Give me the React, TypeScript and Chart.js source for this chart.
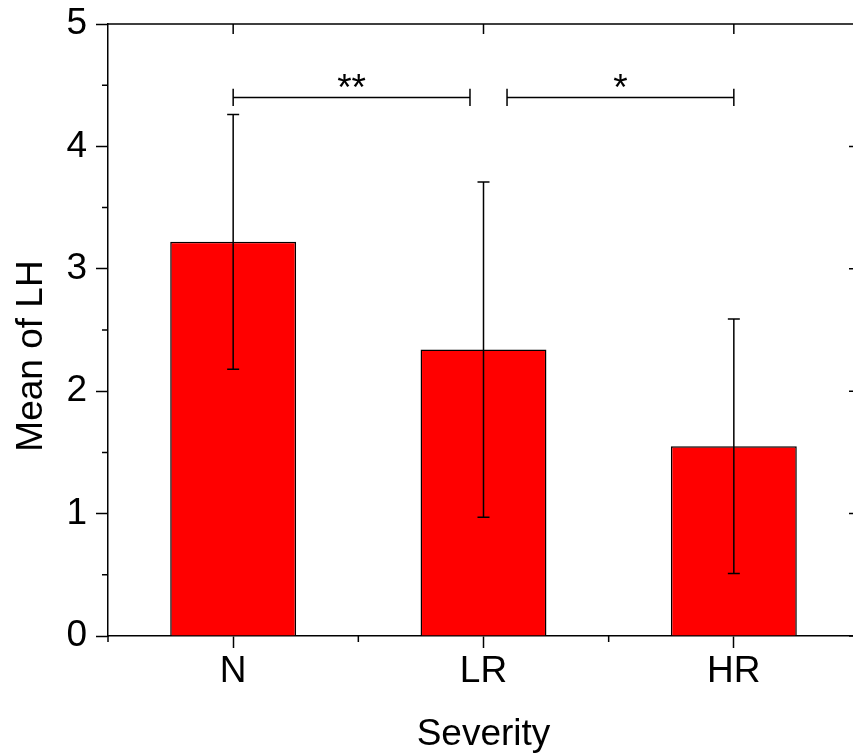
import React, { useEffect, useRef } from 'react';
import { Chart, registerables } from 'chart.js';

Chart.register(...registerables);

const categories = ['N', 'LR', 'HR'];
const means = [3.22, 2.34, 1.55];
const errors = [1.04, 1.37, 1.04];
const yTicks = [0, 1, 2, 3, 4, 5];
const yMinorTicks = [0.5, 1.5, 2.5, 3.5, 4.5];
const xMinorTicks = [-0.5, 0.5, 1.5, 2.5];
const bracketFrom = [0, 1.094];
const bracketTo = [0.946, 2];
const bracketY = [4.4, 4.4];
const bracketLabels = ['**', '*'];
const xTitle = 'Severity';
const yTitle = 'Mean of LH';

const FONT = '"Liberation Sans", Arial, sans-serif';

export default function App() {
  const ref = useRef<HTMLCanvasElement>(null);

  useEffect(() => {
    const canvas = ref.current;
    if (!canvas) return;

    const decor = {
      id: 'decor',
      afterDatasetsDraw(chart: any) {
        const { ctx, chartArea: a, scales } = chart;
        const x = scales.x;
        const y = scales.y;
        ctx.save();
        ctx.strokeStyle = '#000';
        ctx.fillStyle = '#000';
        ctx.lineWidth = 1.5;

        // error bars
        ctx.beginPath();
        means.forEach((m, i) => {
          const px = x.getPixelForValue(i);
          const top = y.getPixelForValue(m + errors[i]);
          const bot = y.getPixelForValue(m - errors[i]);
          ctx.moveTo(px, top);
          ctx.lineTo(px, bot);
          ctx.moveTo(px - 6, top);
          ctx.lineTo(px + 6, top);
          ctx.moveTo(px - 6, bot);
          ctx.lineTo(px + 6, bot);
        });
        ctx.stroke();

        // significance brackets
        ctx.beginPath();
        bracketFrom.forEach((f, i) => {
          const x1 = x.getPixelForValue(f);
          const x2 = x.getPixelForValue(bracketTo[i]);
          const py = y.getPixelForValue(bracketY[i]);
          const pt = y.getPixelForValue(bracketY[i] + 0.07);
          const pb = y.getPixelForValue(bracketY[i] - 0.07);
          ctx.moveTo(x1, py);
          ctx.lineTo(x2, py);
          ctx.moveTo(x1, pt);
          ctx.lineTo(x1, pb);
          ctx.moveTo(x2, pt);
          ctx.lineTo(x2, pb);
        });
        ctx.stroke();
        ctx.font = `37px ${FONT}`;
        ctx.textAlign = 'center';
        ctx.textBaseline = 'alphabetic';
        bracketFrom.forEach((f, i) => {
          const mx = x.getPixelForValue((f + bracketTo[i]) / 2);
          const py = y.getPixelForValue(bracketY[i] - 0.02);
          ctx.fillText(bracketLabels[i], mx, py);
        });

        // top and right axes
        ctx.beginPath();
        ctx.moveTo(a.left, a.top);
        ctx.lineTo(a.right, a.top);
        ctx.lineTo(a.right, a.bottom);
        categories.forEach((_, i) => {
          const px = x.getPixelForValue(i);
          ctx.moveTo(px, a.top);
          ctx.lineTo(px, a.top + 10);
        });
        yTicks.forEach((v) => {
          const py = y.getPixelForValue(v);
          ctx.moveTo(a.right, py);
          ctx.lineTo(a.right - 10, py);
        });
        // minor ticks
        yMinorTicks.forEach((v) => {
          const py = y.getPixelForValue(v);
          ctx.moveTo(a.left, py);
          ctx.lineTo(a.left - 6, py);
        });
        xMinorTicks.forEach((v) => {
          const px = x.getPixelForValue(v);
          ctx.moveTo(px, a.bottom);
          ctx.lineTo(px, a.bottom + 6);
        });
        ctx.stroke();

        // y axis title
        ctx.translate(42, (a.top + a.bottom) / 2 + 26);
        ctx.rotate(-Math.PI / 2);
        ctx.textAlign = 'center';
        ctx.textBaseline = 'alphabetic';
        ctx.fillText(yTitle, 0, 0);
        ctx.restore();
      },
    };

    const chart = new Chart(canvas, {
      type: 'bar',
      data: {
        labels: categories,
        datasets: [
          {
            data: means,
            backgroundColor: '#ff0000',
            borderColor: '#000',
            borderWidth: 1.5,
            barPercentage: 1,
            categoryPercentage: 0.503,
          },
        ],
      },
      options: {
        responsive: false,
        animation: false,
        layout: { padding: { top: 24, right: 21, left: 0, bottom: 0 } },
        plugins: { legend: { display: false }, tooltip: { enabled: false } },
        scales: {
          x: {
            type: 'category',
            offset: true,
            grid: {
              drawOnChartArea: false,
              offset: false,
              tickLength: 12,
              tickWidth: 1.5,
              tickColor: '#000',
            },
            border: { display: true, color: '#000', width: 1.5 },
            ticks: { color: '#000', font: { family: FONT, size: 37 }, padding: 2 },
            title: {
              display: true,
              text: xTitle,
              color: '#000',
              font: { family: FONT, size: 37, lineHeight: 1 },
              padding: { top: 0, bottom: 2 },
            },
            afterFit: (s: any) => {
              s.height = 119;
              s.paddingLeft = 0;
              s.paddingRight = 0;
            },
          },
          y: {
            min: 0,
            max: 5,
            ticks: { stepSize: 1, color: '#000', font: { family: FONT, size: 37 }, padding: 9 },
            grid: {
              drawOnChartArea: false,
              tickLength: 12,
              tickWidth: 1.5,
              tickColor: '#000',
            },
            border: { display: true, color: '#000', width: 1.5 },
            afterFit: (s: any) => {
              s.width = 108;
              s.paddingTop = 0;
              s.paddingBottom = 0;
            },
          },
        },
      },
      plugins: [decor],
    });

    return () => chart.destroy();
  }, []);

  return (
    <div
      style={{
        position: 'fixed',
        left: 0,
        top: 0,
        width: 853,
        height: 755,
        overflow: 'hidden',
        background: '#fff',
      }}
    >
      <canvas ref={ref} width={880} height={755} style={{ display: 'block' }} />
    </div>
  );
}
